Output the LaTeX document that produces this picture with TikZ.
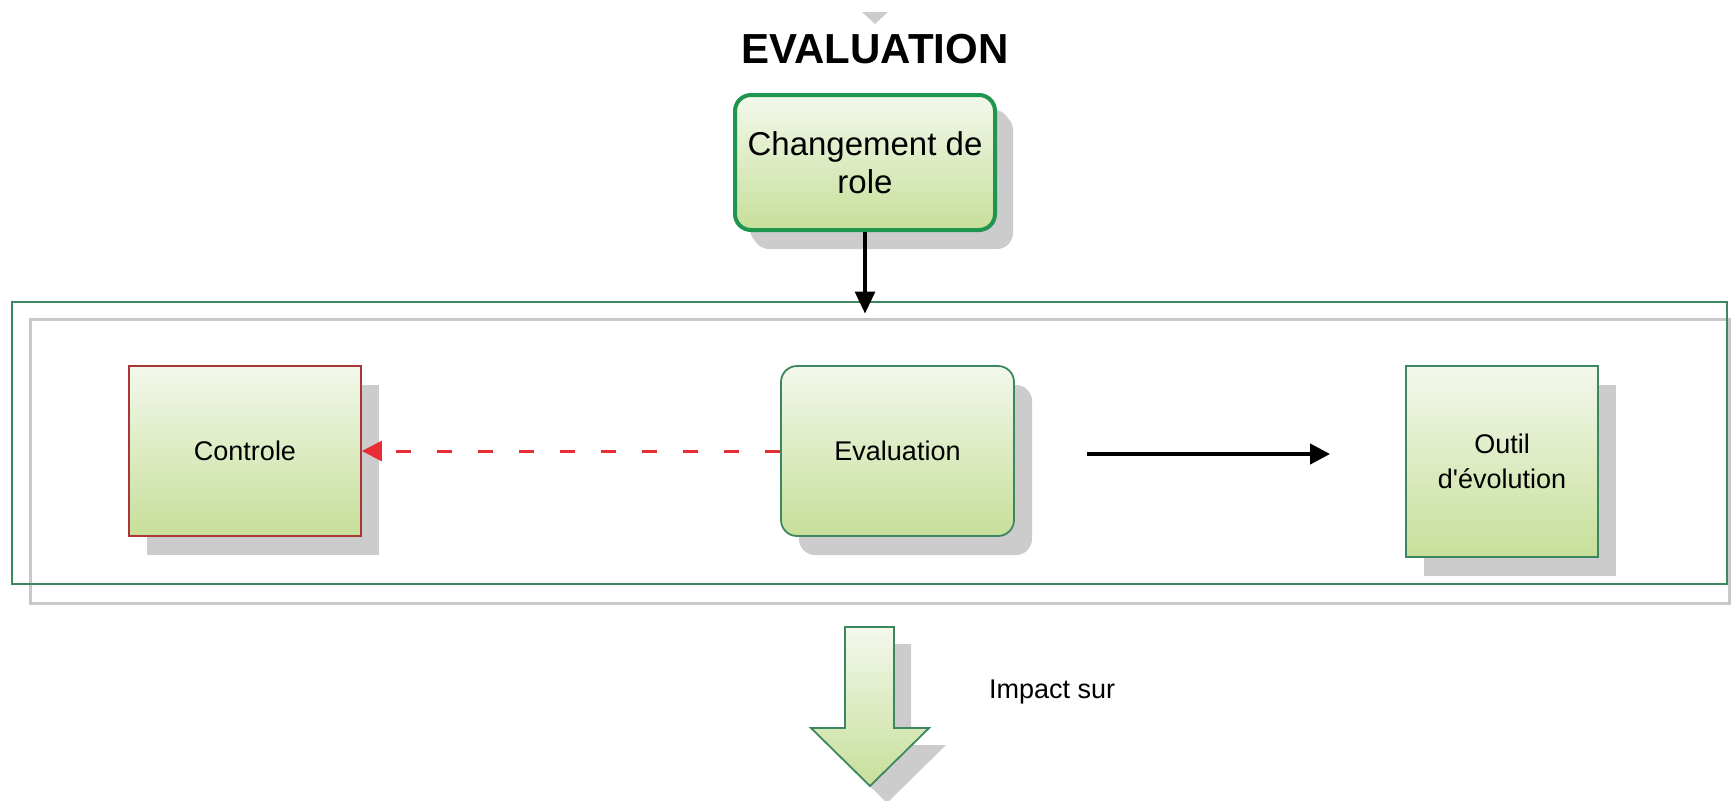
\documentclass[tikz,border=0pt]{standalone}
\usepackage{fontspec}
\setmainfont{Liberation Sans}
\usetikzlibrary{arrows.meta,shadows}

\definecolor{boxtop}{RGB}{243,248,236}
\definecolor{boxbottom}{RGB}{199,223,154}
\definecolor{framegreen}{RGB}{60,135,95}
\definecolor{rolegreen}{RGB}{30,150,80}
\definecolor{ctrlred}{RGB}{170,55,55}
\definecolor{dashred}{RGB}{232,45,55}
\definecolor{shadowgray}{RGB}{204,204,204}
\definecolor{framegray}{RGB}{200,200,200}

\tikzset{
  boxtext/.style={font=\fontsize{13.5}{17.5}\selectfont},
  greenbox/.style={top color=boxtop, bottom color=boxbottom, draw=framegreen,
    line width=0.9pt, align=center, inner sep=0pt, boxtext,
    copy shadow={shadow xshift=9pt, shadow yshift=-9.5pt, fill=shadowgray, draw=none}},
  redbox/.style={greenbox, draw=ctrlred},
  rolebox/.style={greenbox, draw=rolegreen, line width=2pt, rounded corners=8pt,
    font=\fontsize{16.5}{19}\selectfont,
    copy shadow={shadow xshift=7.5pt, shadow yshift=-7.5pt, fill=shadowgray, draw=none}},
  flowarrow/.style={draw=black, line width=2pt, -{Triangle[length=10pt, width=10pt]}},
  dasharrow/.style={draw=dashred, line width=1.5pt, dash pattern=on 7.5pt off 13pt,
    -{Triangle[length=10pt, width=10pt]}},
}

\begin{document}
\begin{tikzpicture}[x=0.5pt, y=-0.5pt]
    \useasboundingbox (0,0) rectangle (1731,800);

    % Title and the cut-off tip above it
    \fill[shadowgray] (862,12) -- (888,12) -- (875,24) -- cycle;
    \node[font=\fontsize{21}{25}\selectfont\bfseries] (title) at (875,49) {EVALUATION};

    % Top box
    \node[rolebox, minimum width=130pt, minimum height=67.5pt] (role) at (865,162.5)
        {Changement de\\role};

    % The two frames round the row of boxes
    \node[draw=framegray, line width=1.5pt, minimum width=849.5pt, minimum height=142pt,
        inner sep=0pt] (inner) at (879.5,461) {};
    \node[draw=framegreen, line width=1pt, minimum width=857.5pt, minimum height=141pt,
        inner sep=0pt] (outer) at (869.5,443) {};

    % Row of boxes
    \node[redbox, minimum width=116pt, minimum height=85pt] (ctrl) at (245,451) {Controle};
    \node[greenbox, rounded corners=8pt, minimum width=116.5pt, minimum height=85pt]
        (eval) at (897.5,451) {Evaluation};
    \node[greenbox, minimum width=96pt, minimum height=95.5pt] (outil) at (1502,461.5)
        {Outil\\d\textquotesingle évolution};

    % Connectors
    \draw[line width=1.6pt, -{Triangle[length=11pt, width=10pt]}, shorten >=2pt]
        (role.south) -- (role.south |- inner.north);
    \draw[dasharrow] (eval.west) -- (ctrl.east);
    \draw[flowarrow, shorten <=36pt, shorten >=37.5pt] ([yshift=-1.5pt]eval.east)
        -- ([yshift=-1.5pt]eval.east -| outil.west);

    % Impact arrow and its label
    \draw[top color=boxtop, bottom color=boxbottom, draw=framegreen, line width=0.9pt,
        copy shadow={shadow xshift=8.5pt, shadow yshift=-8.5pt, fill=shadowgray, draw=none}]
        (845,627) -- (894,627) -- (894,728) -- (929,728) -- (870,786) -- (811,728)
        -- (845,728) -- cycle;
    \node[boxtext, anchor=west] (impact) at (982,692) {Impact sur};
\end{tikzpicture}
\end{document}
